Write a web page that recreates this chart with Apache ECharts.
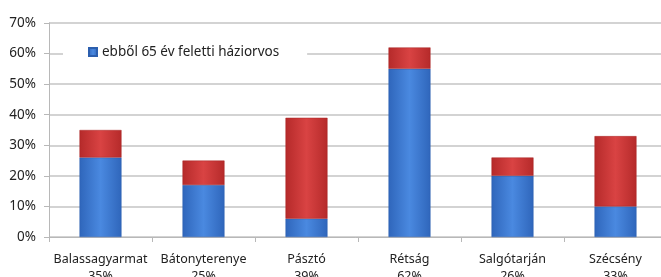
<!DOCTYPE html>
<html>
<head>
<meta charset="utf-8">
<script src="https://cdn.jsdelivr.net/npm/echarts@6/dist/echarts.min.js"></script>
<style>
  html, body { margin: 0; padding: 0; background: #fff; }
  #chart { width: 661px; height: 277px; }
</style>
</head>
<body>
<div id="chart"></div>
<script>
// településenkénti adatok (%)
const towns = ['Balassagyarmat', 'Bátonyterenye', 'Pásztó', 'Rétság', 'Salgótarján', 'Szécsény']
const over65 = [26, 17, 6, 55, 20, 10]
const rest = [9, 8, 33, 7, 6, 23]
const yTicks = [0, 10, 20, 30, 40, 50, 60, 70]

const totals = towns.map((t, i) => over65[i] + rest[i])

const shade = (edge, mid) => new echarts.graphic.LinearGradient(0, 0, 1, 0, [
  { offset: 0, color: edge },
  { offset: 0.5, color: mid },
  { offset: 1, color: edge }
])

const chart = echarts.init(document.getElementById('chart'))
const option = {
  animation: false,
  textStyle: { fontFamily: 'Noto Sans' },
  grid: { left: 49, top: 23, bottom: 40, width: 618, outerBoundsMode: 'none', containLabel: false },
  legend: {
    data: ['ebből 65 év feletti háziorvos'],
    left: 63,
    top: 41,
    backgroundColor: '#fff',
    padding: [4, 28, 4, 25],
    itemWidth: 8,
    itemHeight: 8,
    itemGap: 4,
    icon: 'rect',
    textStyle: { fontSize: 13.5, color: '#222', fontFamily: 'Noto Sans' }
  },
  xAxis: {
    type: 'category',
    data: towns,
    axisLine: { lineStyle: { color: '#b8b8b8' } },
    axisTick: { show: true, length: 5, lineStyle: { color: '#b8b8b8' } },
    axisLabel: {
      interval: 0,
      margin: 14,
      fontSize: 12.5,
      lineHeight: 17,
      color: '#222',
      formatter: (v, i) => v + '\n' + totals[i] + '%'
    }
  },
  yAxis: {
    type: 'value',
    min: yTicks[0],
    max: yTicks[yTicks.length - 1],
    interval: 10,
    axisLine: { show: true, lineStyle: { color: '#b8b8b8' } },
    axisTick: { show: true, length: 5, lineStyle: { color: '#b8b8b8' } },
    axisLabel: { formatter: '{value}%', fontSize: 13.5, color: '#222', margin: 13 },
    splitLine: { lineStyle: { color: '#c4c4c4', width: 1.5 } }
  },
  series: [
    {
      name: 'ebből 65 év feletti háziorvos',
      type: 'bar',
      stack: 'total',
      barWidth: 42,
      data: over65,
      itemStyle: {
        color: shade('#2f66bb', '#4a89e0'),
        borderColor: '#2c5fae',
        borderWidth: 0.5
      }
    },
    {
      name: 'többi',
      type: 'bar',
      stack: 'total',
      barWidth: 42,
      data: rest,
      itemStyle: {
        color: shade('#b52a2a', '#d94343'),
        borderColor: '#a82626',
        borderWidth: 0.5
      }
    }
  ]
}
chart.setOption(option)
</script>
</body>
</html>
